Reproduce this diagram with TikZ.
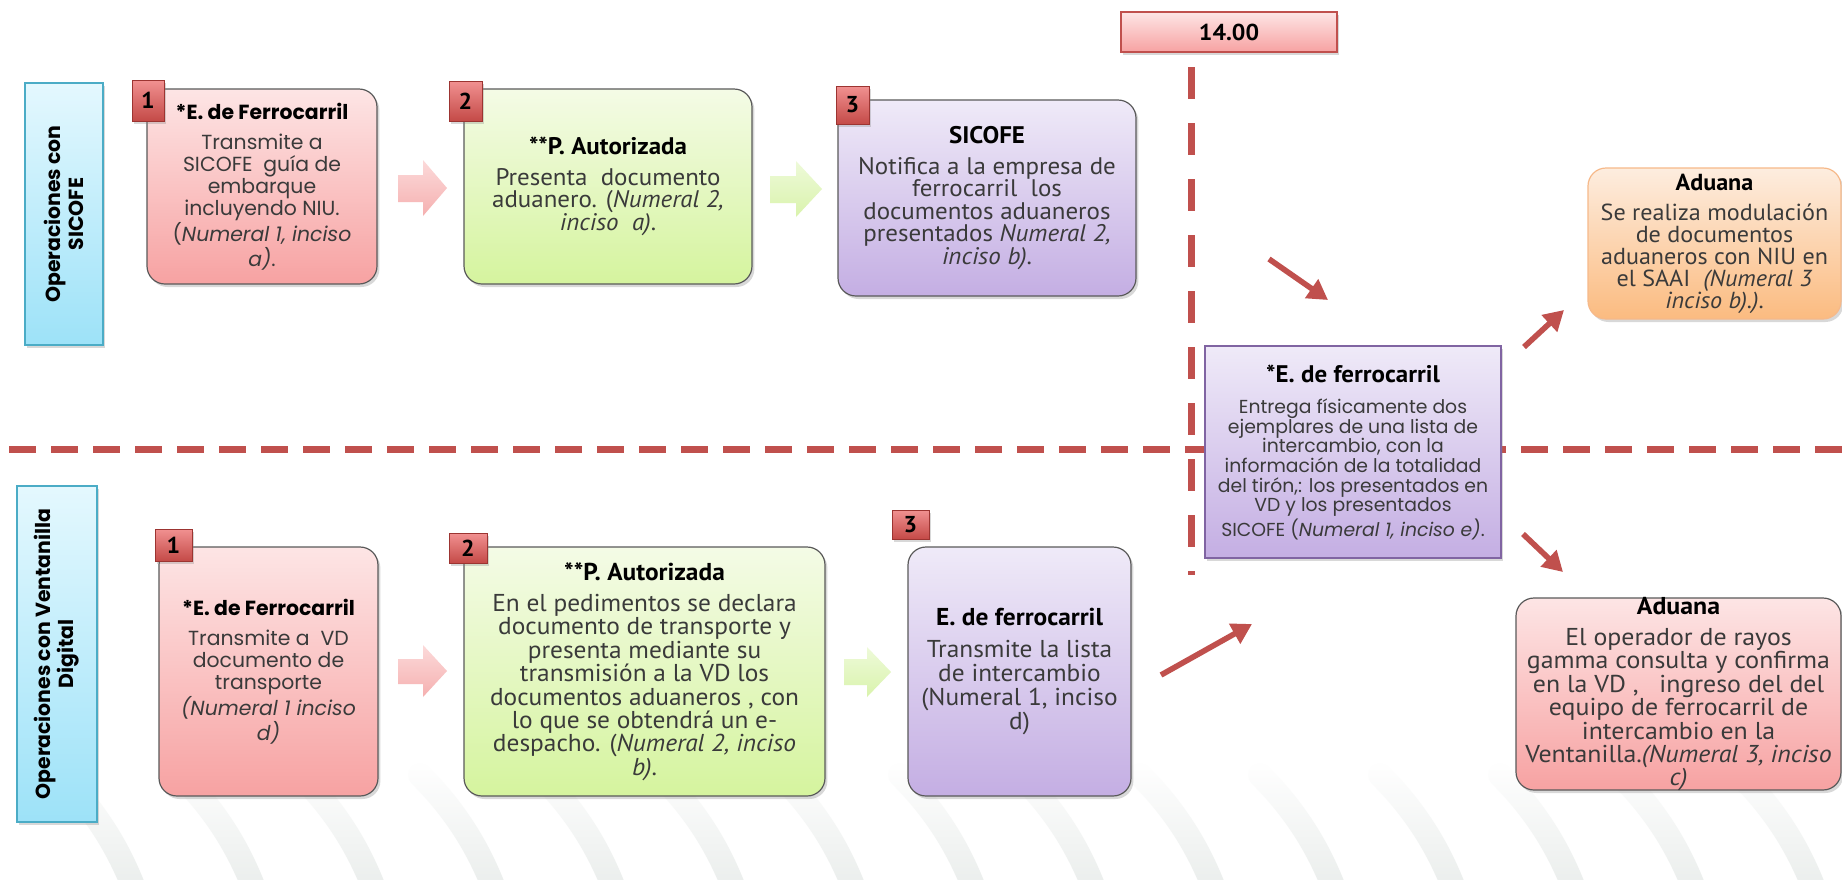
\documentclass[tikz,border=0pt]{standalone}
\usepackage{fontspec}
\setmainfont{PT Sans}
\newfontfamily\mont{Poppins}
\newfontfamily\myr[FakeStretch=1.04]{PT Sans}
\newfontfamily\myrw[FakeStretch=1.06]{PT Sans}
\usetikzlibrary{arrows.meta,shadows,fit,fadings}
\definecolor{redline}{HTML}{C0504D}
\definecolor{txt}{HTML}{3A3A3A}
\definecolor{boxborder}{HTML}{5A5A5A}
\definecolor{pinkT}{HTML}{FDE5E5}
\definecolor{pinkB}{HTML}{F7A2A2}
\definecolor{greenT}{HTML}{F4FBE6}
\definecolor{greenB}{HTML}{D5F49E}
\definecolor{purpT}{HTML}{EFEAF8}
\definecolor{purpB}{HTML}{C4AEE3}
\definecolor{purpBorder}{HTML}{8064A2}
\definecolor{orT}{HTML}{FDEDDF}
\definecolor{orB}{HTML}{FBBB80}
\definecolor{orBorder}{HTML}{F6B98A}
\definecolor{cyanT}{HTML}{E4F8FE}
\definecolor{cyanB}{HTML}{9DE2F8}
\definecolor{cyanBorder}{HTML}{4BACC6}
\definecolor{badgeT}{HTML}{F19191}
\definecolor{badgeB}{HTML}{C44A47}
\definecolor{badgeBorder}{HTML}{9C3431}
\definecolor{arrPinkT}{HTML}{FCDADA}
\definecolor{arrPinkB}{HTML}{F5B0B0}
\definecolor{arrGreenT}{HTML}{EEFAD9}
\definecolor{arrGreenB}{HTML}{D9F3AC}
\definecolor{wmgray}{HTML}{E6EAE8}
\tikzset{
  shad/.style={drop shadow={opacity=0.3,shadow xshift=1.2pt,shadow yshift=-1.5pt}},
  box/.style={rounded corners=9pt, draw=boxborder, line width=0.6pt, inner sep=0pt, shad},
  btext/.style={align=center, text=txt, inner sep=0pt},
  montf/.style={btext, font=\mont\fontsize{10.2}{11}\selectfont},
  myrf/.style={btext, font=\myr\fontsize{12}{11.3}\selectfont},
  pinkbox/.style={box, top color=pinkT, bottom color=pinkB},
  greenbox/.style={box, top color=greenT, bottom color=greenB},
  purpbox/.style={box, top color=purpT, bottom color=purpB},
  orbox/.style={box, draw=orBorder, top color=orT, bottom color=orB},
  lane/.style={draw=cyanBorder, line width=1pt, inner sep=0pt, top color=cyanT,
    bottom color=cyanB, shad},
  lanetext/.style={rotate=90, align=center, inner sep=0pt, font=\mont\bfseries\fontsize{10.2}{11.6}\selectfont, text=black},
  badge/.style={draw=badgeBorder, line width=0.5pt, inner sep=0pt, top color=badgeT,
    bottom color=badgeB, shad},
  badgetext/.style={inner sep=0pt, font=\myr\bfseries\fontsize{11.5}{11.5}\selectfont, text=black},
  dashv/.style={draw=redline, line width=3.5pt, dash pattern=on 16pt off 12pt},
  dashh/.style={draw=redline, line width=3.5pt, dash pattern=on 13.5pt off 7.5pt},
  redarrow/.style={draw=redline, line width=2.8pt, -{Triangle[length=10pt,width=11pt]}},
  blockpink/.style={top color=arrPinkT, bottom color=arrPinkB},
  blockgreen/.style={top color=arrGreenT, bottom color=arrGreenB},
  wm/.style={draw=wmgray, line width=12pt, line cap=round, path fading=north},
}
\newcommand\ttl[1]{{\bfseries\color{black}#1}\\[4pt]}
\newcommand\myttl[1]{{\myr\bfseries\fontsize{12}{12}\selectfont\color{black}#1}\\[6pt]}
\begin{document}
\begin{tikzpicture}[x=0.5pt,y=-0.5pt]
\useasboundingbox[fill=white] (0,0) rectangle (1842,879);

% faint watermark stripes
\foreach \xx in {60,180,300,420,540,660,780,900,1020,1140,1260,1380,1500,1620,1740}{
  \draw[wm] (\xx,775) .. controls (\xx+30,805) and (\xx+60,845) .. (\xx+80,905);
}

% dashed separators
\draw[dashh] (9,449) -- (1842,449);
\draw[dashv] (1191,67) -- (1191,575);

% lane labels
\node[lane, fit={(25,83)(103,345)}] (lane1) {};
\node[lanetext] (lane1x) at (lane1.center) {Operaciones con\\SICOFE};
\node[lane, fit={(17,486)(97,822)}] (lane2) {};
\node[lanetext] (lane2x) at (lane2.center) {Operaciones con Ventanilla\\Digital};

% 14.00
\node[draw=redline, line width=0.8pt, top color=pinkT, bottom color=pinkB, inner sep=0pt,
  shad, fit={(1121,12)(1337,52)}] (hora) {};
\node[badgetext] (horax) at (hora.center) {14.00};

% top row
\node[pinkbox, fit={(147,89)(377,284)}] (t1) {};
\node[montf] (t1x) at (t1.center) {\ttl{*E. de Ferrocarril}Transmite a\\SICOFE\ \ guía de\\embarque\\incluyendo NIU.\\(\textit{Numeral 1, inciso}\\\textit{a)}.};
\node[badge, fit={(132,80)(164,121)}] (bt1) {};
\node[badgetext] at (bt1.center) {1};

\node[greenbox, fit={(464,89)(752,284)}] (t2) {};
\node[myrf] (t2x) at (t2.center) {\ttl{**P. Autorizada}Presenta\ \ documento\\aduanero. (\textit{Numeral 2,}\\\textit{inciso\ \ a)}.};
\node[badge, fit={(449,81)(482,121)}] (bt2) {};
\node[badgetext] at (bt2.center) {2};

\node[purpbox, fit={(838,100)(1136,296)}] (t3) {};
\node[myrf] (t3x) at (t3.center) {\ttl{SICOFE}Notifica a la empresa de\\ferrocarril\ \ los\\documentos aduaneros\\presentados \textit{Numeral 2,}\\\textit{inciso b)}.};
\node[badge, fit={(836,86)(869,124)}] (bt3) {};
\node[badgetext] at (bt3.center) {3};

\node[orbox, fit={(1588,168)(1841,319)}] (adu1) {};
\node[myrf, font=\myr\fontsize{11.6}{11}\selectfont] (adu1x) at (adu1.center) {\ttl{Aduana}Se realiza modulación\\de documentos\\aduaneros con NIU en\\el SAAI\ \ \textit{(Numeral 3}\\\textit{inciso b).)}.};

% center
\node[draw=purpBorder, line width=0.8pt, inner sep=0pt, top color=purpT, bottom color=purpB,
  shad, fit={(1205,346)(1501,558)}] (cent) {};
\node[btext, font=\mont\fontsize{9.4}{9.8}\selectfont] (centx) at (cent.center) {\myttl{*E. de ferrocarril}Entrega físicamente dos\\ejemplares de una lista de\\intercambio, con la\\información de la totalidad\\del tirón,: los presentados en\\VD y los presentados\\SICOFE (\textit{Numeral 1, inciso e)}.};

% bottom row
\node[pinkbox, fit={(159,547)(378,796)}] (b1) {};
\node[montf] (b1x) at (b1.center) {\ttl{*E. de Ferrocarril}Transmite a\ \ VD\\documento de\\transporte\\\textit{(Numeral 1 inciso}\\\textit{d)}};
\node[badge, fit={(155,529)(192,561)}] (bb1) {};
\node[badgetext] at (bb1.center) {1};

\node[greenbox, fit={(464,547)(825,796)}] (b2) {};
\node[myrf, font=\myr\fontsize{12.2}{11.7}\selectfont] (b2x) at (b2.center) {\ttl{**P. Autorizada}En el pedimentos se declara\\documento de transporte y\\presenta mediante su\\transmisión a la VD los\\documentos aduaneros , con\\lo que se obtendrá un e-\\despacho. (\textit{Numeral 2, inciso}\\\textit{b)}.};
\node[badge, fit={(449,533)(487,563)}] (bb2) {};
\node[badgetext] at (bb2.center) {2};

\node[purpbox, fit={(908,547)(1131,796)}] (b3) {};
\node[myrf, font=\myr\fontsize{12.2}{12}\selectfont] (b3x) at (b3.center) {\ttl{E. de ferrocarril}Transmite la lista\\de intercambio\\(Numeral 1, inciso\\d)};
\node[badge, fit={(892,510)(929,539)}] (bb3) {};
\node[badgetext] at (bb3.center) {3};

\node[pinkbox, fit={(1516,598)(1841,790)}] (adu2) {};
\node[myrf, font=\myrw\fontsize{12.2}{11.7}\selectfont] (adu2x) at (adu2.center) {\ttl{Aduana}El operador de rayos\\gamma consulta y confirma\\en la VD ,\ \ \ ingreso del del\\equipo de ferrocarril de\\intercambio en la\\Ventanilla.\textit{(Numeral 3, inciso}\\\textit{c)}};

% block arrows
\path[blockpink] (398,175) -- (423,175) -- (423,160) -- (447,188) -- (423,216) -- (423,202) -- (398,202) -- cycle;
\path[blockgreen] (770,176) -- (796,176) -- (796,161) -- (822,189) -- (796,217) -- (796,203) -- (770,203) -- cycle;
\path[blockpink] (398,659) -- (423,659) -- (423,645) -- (447,671) -- (423,697) -- (423,684) -- (398,684) -- cycle;
\path[blockgreen] (844,659) -- (867,659) -- (867,647) -- (891,672) -- (867,697) -- (867,685) -- (844,685) -- cycle;

% red arrows
\coordinate (a1s) at (1269,259); \coordinate (a1e) at (1328,300);
\coordinate (a2s) at (1524,347); \coordinate (a2e) at (1564,310);
\coordinate (a3s) at (1523,534); \coordinate (a3e) at (1563,572);
\coordinate (a4s) at (1161,675); \coordinate (a4e) at (1252,624);
\draw[redarrow] (a1s) -- (a1e);
\draw[redarrow] (a2s) -- (a2e);
\draw[redarrow] (a3s) -- (a3e);
\draw[redarrow] (a4s) -- (a4e);
\end{tikzpicture}
\end{document}
